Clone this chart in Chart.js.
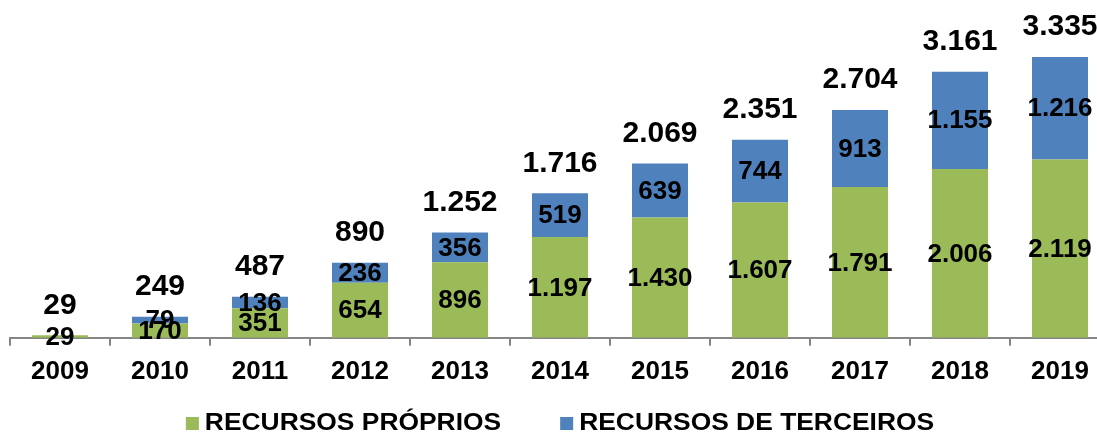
<!DOCTYPE html>
<html lang="pt">
<head>
    <meta charset="UTF-8" />
    <title>Recursos</title>
    <script src="https://cdn.jsdelivr.net/npm/chart.js"></script>
    <style>
        body {
            margin: 0;
            padding: 0;
            overflow: hidden;
            background: #ffffff;
        }
        .chart-container {
            width: 1110px;
            height: 434px;
            position: relative;
        }
    </style>
</head>
<body>
    <div class="chart-container">
        <canvas id="recursosChart" width="1110" height="434"></canvas>
    </div>

    <script>
        const anos = ['2009', '2010', '2011', '2012', '2013', '2014', '2015', '2016', '2017', '2018', '2019'];
        const proprios = [29, 170, 351, 654, 896, 1197, 1430, 1607, 1791, 2006, 2119];
        const terceiros = [0, 79, 136, 236, 356, 519, 639, 744, 913, 1155, 1216];
        const totais = [29, 249, 487, 890, 1252, 1716, 2069, 2351, 2704, 3161, 3335];

        const fontFamily = '"Liberation Sans", Arial, sans-serif';

        // 1234 -> "1.234"
        function fmt(v) {
            return String(v).replace(/\B(?=(\d{3})+(?!\d))/g, '.');
        }

        const valueLabels = {
            id: 'valueLabels',
            afterDatasetsDraw(chart) {
                const ctx = chart.ctx;
                ctx.save();
                ctx.textAlign = 'center';
                ctx.textBaseline = 'middle';
                ctx.fillStyle = '#000';
                ctx.font = 'bold 26px ' + fontFamily;
                chart.data.datasets.forEach((ds, i) => {
                    chart.getDatasetMeta(i).data.forEach((bar, j) => {
                        const v = ds.data[j];
                        if (!v) return;
                        const p = bar.getProps(['x', 'y', 'base'], true);
                        ctx.fillText(fmt(v), p.x, (p.y + p.base) / 2 + 1);
                    });
                });
                ctx.font = 'bold 30px ' + fontFamily;
                const bars = chart.getDatasetMeta(0).data;
                totais.forEach((t, j) => {
                    const yTop = chart.scales.y.getPixelForValue(t);
                    ctx.fillText(fmt(t), bars[j].x, yTop - 30);
                });
                ctx.restore();
            }
        };

        // legend drawn by hand: the original text is a bit wider than the font
        const wideLegend = {
            id: 'wideLegend',
            afterDraw(chart) {
                const ctx = chart.ctx;
                const stretch = 1.1;
                const gap = 6, itemGap = 59, box = 13;
                ctx.save();
                ctx.font = 'bold 24px ' + fontFamily;
                ctx.textBaseline = 'alphabetic';
                const items = chart.data.datasets.map(ds => ({
                    text: ds.label,
                    color: ds.backgroundColor,
                    w: ctx.measureText(ds.label).width * stretch
                }));
                let total = 0;
                items.forEach((it, i) => { total += box + gap + it.w + (i ? itemGap : 0); });
                const area = chart.chartArea;
                let x = (area.left + area.right - total) / 2;
                const baseY = 430;
                items.forEach((it, i) => {
                    if (i) x += itemGap;
                    ctx.fillStyle = it.color;
                    ctx.fillRect(x, baseY - 13, box, box);
                    x += box + gap;
                    ctx.save();
                    ctx.translate(x, baseY);
                    ctx.scale(stretch, 1);
                    ctx.fillStyle = '#000';
                    ctx.fillText(it.text, 0, 0);
                    ctx.restore();
                    x += it.w;
                });
                ctx.restore();
            }
        };

        const ctx = document.getElementById('recursosChart').getContext('2d');
        new Chart(ctx, {
            type: 'bar',
            data: {
                labels: anos,
                datasets: [
                    {
                        label: 'RECURSOS PRÓPRIOS',
                        data: proprios,
                        backgroundColor: '#9BBB59',
                        borderWidth: 0
                    },
                    {
                        label: 'RECURSOS DE TERCEIROS',
                        data: terceiros,
                        backgroundColor: '#4F81BD',
                        borderWidth: 0
                    }
                ]
            },
            options: {
                responsive: false,
                animation: false,
                barPercentage: 0.56,
                categoryPercentage: 1,
                layout: {
                    padding: { top: 1, left: 10, right: 0, bottom: 37 }
                },
                scales: {
                    x: {
                        stacked: true,
                        grid: {
                            drawOnChartArea: false,
                            color: '#868686',
                            tickLength: 8,
                            lineWidth: 2
                        },
                        border: { color: '#868686', width: 2 },
                        ticks: {
                            color: '#000',
                            padding: 10,
                            font: { family: fontFamily, size: 26, weight: 'bold' }
                        }
                    },
                    y: {
                        stacked: true,
                        display: false,
                        min: 0,
                        max: 4000
                    }
                },
                plugins: {
                    legend: { display: false },
                    tooltip: { enabled: false }
                }
            },
            plugins: [valueLabels, wideLegend]
        });
    </script>
</body>
</html>
